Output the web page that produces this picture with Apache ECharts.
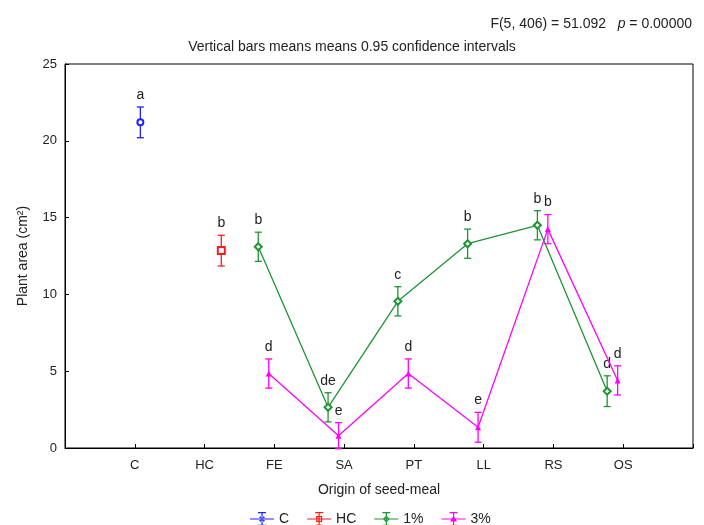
<!DOCTYPE html>
<html><head><meta charset="utf-8">
<script src="https://cdn.jsdelivr.net/npm/echarts@6/dist/echarts.min.js"></script>
<style>html,body{margin:0;padding:0;background:#fff}#c{width:704px;height:525px}</style>
</head><body><div id="c"></div>
<script>
const categories = ['C','HC','FE','SA','PT','LL','RS','OS'];
const yTicks = [0, 5, 10, 15, 20, 25];

const controlMean    = [21.2, null, null, null, null, null, null, null];
const controlCI      = [1.0,  null, null, null, null, null, null, null];
const controlLetters = ['a',  null, null, null, null, null, null, null];

const hcMean    = [null, 12.85, null, null, null, null, null, null];
const hcCI      = [null, 1.0,   null, null, null, null, null, null];
const hcLetters = [null, 'b',   null, null, null, null, null, null];

const onePctMean    = [null, null, 13.1, 2.65, 9.55, 13.3, 14.5, 3.7];
const onePctCI      = [null, null, 0.95, 0.95, 0.95, 0.95, 0.95, 1.0];
const onePctLetters = [null, null, 'b',  'de', 'c',  'b',  'b',  'd'];

const threePctMean    = [null, null, 4.85, 0.8,  4.85, 1.35, 14.25, 4.4];
const threePctCI      = [null, null, 0.95, 0.85, 0.95, 0.97, 0.95,  0.95];
const threePctLetters = [null, null, 'd',  'e',  'd',  'e',  'b',   'd'];

const groups = [
  {name:'C',  mean:controlMean,  ci:controlCI,  letters:controlLetters,  color:'#2020ff', offset:0.08,  symbol:'emptyCircle', size:6},
  {name:'HC', mean:hcMean,       ci:hcCI,       letters:hcLetters,       color:'#ff1a1a', offset:0.24,  symbol:'emptyRect', size:7},
  {name:'1%', mean:onePctMean,   ci:onePctCI,   letters:onePctLetters,   color:'#1e9433', offset:-0.23, symbol:'emptyDiamond', size:7},
  {name:'3%', mean:threePctMean, ci:threePctCI, letters:threePctLetters, color:'#ff00ff', offset:-0.08, symbol:'triangle', size:6}
];

const FONT = 'Liberation Sans, Arial, sans-serif';
const ebData = [];
const ebMeta = [];
const series = [];
groups.forEach(g => {
  const pts = [];
  g.mean.forEach((m, i) => {
    if (m == null) return;
    const x = i + 1 + g.offset;
    pts.push([x, m]);
    ebData.push([x, m, m - g.ci[i], m + g.ci[i]]);
    ebMeta.push({color:g.color, letter:g.letters[i]});
  });
  series.push({
    name:g.name, type:'line', data:pts, symbol:g.symbol, symbolSize:g.size,
    lineStyle:{color:g.color, width:1.3}, itemStyle:{color:g.color, borderWidth:1.1},
    z:5, animation:false
  });
});
series.push({
  name:'eb', type:'custom', data:ebData, clip:false, z:4, animation:false,
  renderItem(params, api){
    const meta = ebMeta[params.dataIndex];
    const x = api.value(0);
    const pLo = api.coord([x, api.value(2)]);
    const pHi = api.coord([x, api.value(3)]);
    const w = 3.5;
    const st = {stroke:meta.color, lineWidth:1.3};
    return {type:'group', children:[
      {type:'line', shape:{x1:pLo[0], y1:pLo[1], x2:pHi[0], y2:pHi[1]}, style:st},
      {type:'line', shape:{x1:pLo[0]-w, y1:pLo[1], x2:pLo[0]+w, y2:pLo[1]}, style:st},
      {type:'line', shape:{x1:pHi[0]-w, y1:pHi[1], x2:pHi[0]+w, y2:pHi[1]}, style:st},
      {type:'text', style:{text:meta.letter, x:pHi[0], y:pHi[1]-5, align:'center', verticalAlign:'bottom', font:'14px ' + FONT, fill:'#222'}}
    ]};
  }
});

const base = 'M8,0H16V1.3H8Z M8,12.7H16V14H8Z M11.4,0H12.6V14H11.4Z M0,6.4H24V7.6H0Z ';
const icons = {
  'C':  base + 'M9,7A3,3 0 1,0 15,7A3,3 0 1,0 9,7Z M10.3,7A1.7,1.7 0 1,1 13.7,7A1.7,1.7 0 1,1 10.3,7Z',
  'HC': base + 'M9,4H15V10H9Z M10.2,5.2V8.8H13.8V5.2Z',
  '1%': base + 'M12,3.5L15.5,7L12,10.5L8.5,7Z M12,5L10,7L12,9L14,7Z',
  '3%': base + 'M12,3.5L15.5,9.5H8.5Z'
};

const chart = echarts.init(document.getElementById('c'), null, {renderer:'canvas'});
chart.setOption({
  animation:false,
  backgroundColor:'#fff',
  textStyle:{fontFamily:FONT},
  title:[
    {text:'{n|F(5, 406) = 51.092   }{i|p}{n| = 0.00000}', right:7, top:12,
     textStyle:{fontWeight:'normal', rich:{n:{fontSize:14, color:'#222', fontWeight:'normal', fontFamily:FONT}, i:{fontSize:14, color:'#222', fontWeight:'normal', fontStyle:'italic', fontFamily:FONT}}}},
    {text:'Vertical bars means means 0.95 confidence intervals', left:'center', top:35,
     textStyle:{fontSize:14, fontWeight:'normal', color:'#222', fontFamily:FONT}}
  ],
  grid:{left:65, right:11, top:64, bottom:77, show:true, borderColor:'#000', borderWidth:1},
  xAxis:{
    type:'value', min:0, max:9, interval:1,
    name:'Origin of seed-meal', nameLocation:'middle', nameGap:35,
    nameTextStyle:{fontSize:14, color:'#222'},
    axisLine:{lineStyle:{color:'#000'}},
    axisTick:{inside:true, length:4, lineStyle:{color:'#000'}},
    axisLabel:{fontSize:13, color:'#222', margin:11, formatter:v => categories[v-1] || ''},
    splitLine:{show:false}
  },
  yAxis:{
    type:'value', min:yTicks[0], max:yTicks[yTicks.length-1], interval:5,
    name:'Plant area (cm²)', nameLocation:'middle', nameGap:35,
    nameTextStyle:{fontSize:14, color:'#222'},
    axisLine:{show:true, lineStyle:{color:'#000'}},
    axisTick:{inside:true, length:4, lineStyle:{color:'#000'}},
    axisLabel:{fontSize:13, color:'#222', margin:8},
    splitLine:{show:false}
  },
  legend:{
    left:245, top:507, itemWidth:24, itemHeight:14, itemGap:18,
    textStyle:{fontSize:14, color:'#222'},
    data:groups.map(g => ({name:g.name, icon:'path://' + icons[g.name]}))
  },
  series:series
});
</script>
</body></html>
